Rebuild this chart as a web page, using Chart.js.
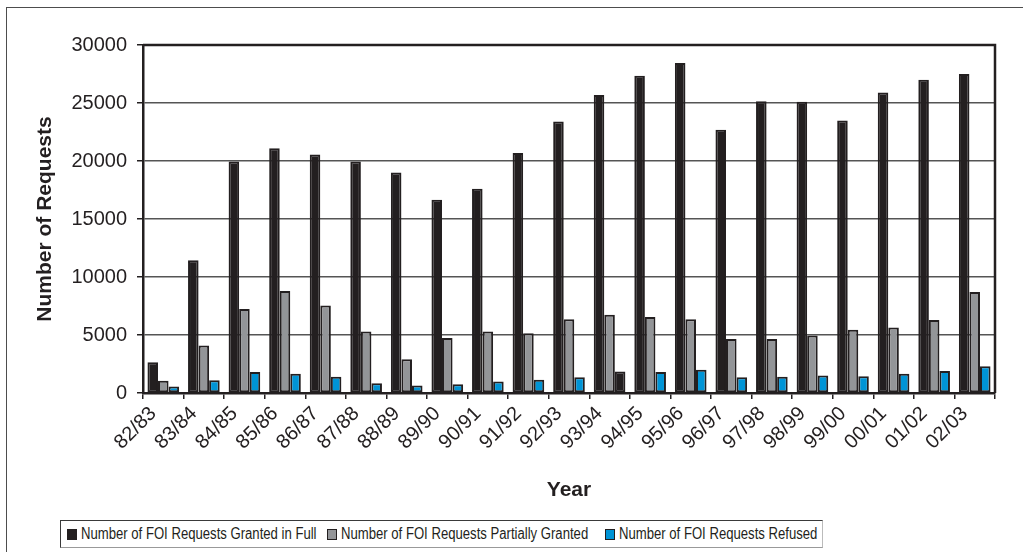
<!DOCTYPE html>
<html>
<head>
<meta charset="utf-8">
<script src="https://cdn.jsdelivr.net/npm/chart.js@4/dist/chart.umd.min.js"></script>
<style>
  html, body { margin: 0; padding: 0; background: #fff; overflow: hidden; }
  #wrap { position: relative; width: 1023px; height: 552px; }
  #frame { position: absolute; left: 6px; top: 7px; width: 1100px; height: 700px;
           border: 1.5px solid #4d4d4d; box-sizing: border-box; }
  #chart { position: absolute; left: 0; top: 0; }
  #legend { position: absolute; left: 60px; top: 520px; width: 763px; height: 28px;
            border: 1px solid #3a3a3a; border-right-color: #bbb; border-bottom-color: #999;
            box-sizing: border-box; background: #fff;
            font-family: "Liberation Sans", Arial, sans-serif;
            font-size: 16px; color: #231f20; }
  .item { position: absolute; top: 0; height: 26px; display: flex; align-items: center; white-space: nowrap; }
  .sw { width: 8px; height: 9px; border: 1.5px solid #231f20; margin-right: 4px; flex: none; }
  .txt { display: inline-block; transform: scaleX(0.82); transform-origin: 0 50%; }
</style>
</head>
<body>
<div id="wrap">
  <div id="frame"></div>
  <canvas id="chart" width="1023" height="552"></canvas>
  <div id="legend"></div>
</div>
<script>
// Financial years
const years = ['82/83', '83/84', '84/85', '85/86', '86/87', '87/88', '88/89', '89/90', '90/91', '91/92',
               '92/93', '93/94', '94/95', '95/96', '96/97', '97/98', '98/99', '99/00', '00/01', '01/02', '02/03'];

// Requests granted in full
const grantedFull = [2650, 11450, 19950, 21100, 20550, 19950, 19000, 16650, 17600, 20700,
                     23400, 25700, 27350, 28450, 22700, 25150, 25100, 23500, 25900, 27000, 27500];

// Requests partially granted
const partiallyGranted = [1050, 4100, 7250, 8800, 7550, 5300, 2900, 4750, 5300, 5150,
                          6350, 6750, 6550, 6350, 4650, 4650, 4950, 5450, 5650, 6300, 8700];

// Requests refused
const refused = [550, 1100, 1800, 1650, 1400, 850, 650, 750, 1000, 1150,
                 1350, 1850, 1800, 2000, 1350, 1400, 1500, 1450, 1650, 1900, 2300];

// Value axis ticks
const yTicks = [0, 5000, 10000, 15000, 20000, 25000, 30000];

const seriesNames = ['Number of FOI Requests Granted in Full',
                     'Number of FOI Requests Partially Granted',
                     'Number of FOI Requests Refused'];

const BLACK = '#231f20', GREY = '#939598', BLUE = '#0094d6';
// the 93/94 refused bar is printed in black
const refusedFill = years.map(y => y === '93/94' ? BLACK : BLUE);

const FONT = "'Liberation Sans', Arial, sans-serif";

const barStyle = { borderColor: BLACK, borderWidth: 2, borderSkipped: false,
                   categoryPercentage: 0.78, barPercentage: 1.0 };

// closes the plot box on its top and right sides
const plotBox = {
  id: 'plotBox',
  afterDraw(chart) {
    const { ctx, chartArea: a } = chart;
    ctx.save();
    ctx.strokeStyle = BLACK;
    ctx.lineWidth = 2.5;
    ctx.beginPath();
    ctx.moveTo(a.left, a.top);
    ctx.lineTo(a.right, a.top);
    ctx.lineTo(a.right, a.bottom);
    ctx.stroke();
    ctx.restore();
  }
};

const chart = new Chart(document.getElementById('chart'), {
  type: 'bar',
  data: {
    labels: years,
    datasets: [
      Object.assign({ label: seriesNames[0], data: grantedFull, backgroundColor: BLACK }, barStyle),
      Object.assign({ label: seriesNames[1], data: partiallyGranted, backgroundColor: GREY }, barStyle),
      Object.assign({ label: seriesNames[2], data: refused, backgroundColor: refusedFill }, barStyle)
    ]
  },
  options: {
    responsive: false,
    animation: false,
    layout: { padding: { left: 0, top: 45, right: 28, bottom: 0 } },
    plugins: { legend: { display: false }, tooltip: { enabled: false } },
    scales: {
      x: {
        offset: true,
        grid: { offset: true, drawOnChartArea: false, drawTicks: true, tickLength: 6,
                color: BLACK, lineWidth: 1.5 },
        border: { color: BLACK, width: 2.5 },
        ticks: { minRotation: 45, maxRotation: 45, autoSkip: false, padding: 3, labelOffset: -10,
                 color: BLACK, font: { family: FONT, size: 20 } },
        title: { display: true, text: 'Year', color: BLACK, padding: { top: 0, bottom: 49 },
                 font: { family: FONT, size: 21, weight: 'bold' } },
        afterFit(s) { s.height = 552 - 393; }
      },
      y: {
        min: 0, max: 30000,
        afterBuildTicks(s) { s.ticks = yTicks.map(v => ({ value: v })); },
        grid: { color: '#555', lineWidth: 1.5, tickLength: 6, tickColor: BLACK },
        border: { color: BLACK, width: 2.5 },
        ticks: { padding: 10, color: BLACK, callback: v => String(v),
                 font: { family: FONT, size: 20 } },
        title: { display: true, text: 'Number of Requests', color: BLACK, padding: { top: 33, bottom: 0 },
                 font: { family: FONT, size: 21, weight: 'bold' } },
        afterFit(s) { s.width = 143; }
      }
    }
  },
  plugins: [plotBox]
});

// legend box under the chart
const legend = document.getElementById('legend');
const itemLeft = [6, 266, 544];
chart.data.datasets.forEach((ds, i) => {
  const item = document.createElement('div');
  item.className = 'item';
  item.style.left = itemLeft[i] + 'px';
  const sw = document.createElement('span');
  sw.className = 'sw';
  sw.style.background = Array.isArray(ds.backgroundColor) ? BLUE : ds.backgroundColor;
  const txt = document.createElement('span');
  txt.className = 'txt';
  txt.textContent = ds.label;
  item.appendChild(sw);
  item.appendChild(txt);
  legend.appendChild(item);
});
</script>
</body>
</html>
